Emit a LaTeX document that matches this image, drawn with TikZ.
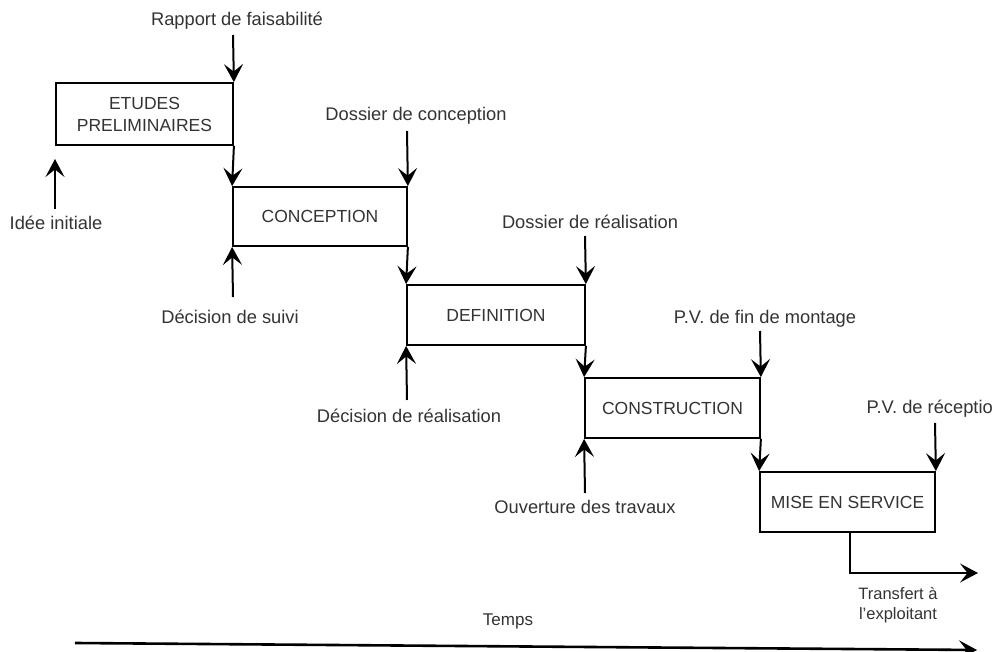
\documentclass[tikz,border=0pt]{standalone}
\usepackage{fontspec}
\setmainfont{Liberation Sans}
\usetikzlibrary{arrows.meta}
\begin{document}
\begin{tikzpicture}[x=1pt, y=-1pt,
  phase/.style={draw, line width=1.8pt, inner sep=0pt, align=center,
    font=\fontsize{17.5}{22}\selectfont, text=black!80},
  lbl/.style={inner sep=0pt, font=\fontsize{18.3}{21}\selectfont, text=black!80, align=center},
  arr/.style={line width=2pt, -{Stealth[length=18pt, width=19pt, inset=7.5pt]}}]
  \useasboundingbox[fill=white] (0,0) rectangle (997,652);

  % project phases, stepping down to the right
  \node[phase, minimum width=177pt, minimum height=62pt] (b1) at (144.5,114) {ETUDES\\PRELIMINAIRES};
  \node[phase, minimum width=174pt, minimum height=59pt] (b2) at (320,216.5) {CONCEPTION};
  \node[phase, minimum width=178pt, minimum height=60pt] (b3) at (496,315) {DEFINITION};
  \node[phase, minimum width=175pt, minimum height=60pt] (b4) at (672.5,408) {CONSTRUCTION};
  \node[phase, minimum width=175pt, minimum height=60pt] (b5) at (847.5,502) {MISE EN SERVICE};

  % documents delivered at the end of each phase
  \node[lbl] (rapport) at (237,21) {Rapport de faisabilité};
  \node[lbl] (dconc)   at (416,116) {Dossier de conception};
  \node[lbl] (dreal)   at (590,222) {Dossier de réalisation};
  \node[lbl] (pvfin)   at (765,319) {P.V. de fin de montage};
  \node[lbl, anchor=east] (pvrec) at (993,409) {P.V. de réceptio};

  % decisions that start each phase
  \node[lbl] (idee)    at (56,223)  {Idée initiale};
  \node[lbl] (dsuivi)  at (230,317) {Décision de suivi};
  \node[lbl] (dreal2)  at (409,416) {Décision de réalisation};
  \node[lbl] (ouv)     at (585,507) {Ouverture des travaux};

  \node[lbl, font=\fontsize{16.5}{20}\selectfont] (transf) at (898,605) {Transfert à\\l'exploitant};
  \node[lbl, font=\fontsize{17}{20}\selectfont] (temps) at (508,621) {Temps};

  % arrow tails and free ends
  \coordinate (tRap)  at (233,35);
  \coordinate (tConc) at (407,131);
  \coordinate (tReal) at (585,236);
  \coordinate (tFin)  at (760,331);
  \coordinate (tRec)  at (935,423);
  \coordinate (tIdee) at (55,209);
  \coordinate (hIdee) at (55,159);
  \coordinate (tSuiv) at (233,297);
  \coordinate (tDec)  at (407,400);
  \coordinate (tOuv)  at (585,493);
  \coordinate (corner) at (850,573);
  \coordinate (tEnd)  at (978,573);
  \coordinate (t0)    at (75,643);
  \coordinate (t1)    at (977,650);

  % incoming documents
  \draw[arr] (tRap)  -- (b1.north east);
  \draw[arr] (tConc) -- (b2.north east);
  \draw[arr] (tReal) -- (b3.north east);
  \draw[arr] (tFin)  -- (b4.north east);
  \draw[arr] (tRec)  -- (b5.north east);

  % decisions
  \draw[arr] (tIdee) -- (hIdee);
  \draw[arr] (tSuiv) -- (b2.south west);
  \draw[arr] (tDec)  -- (b3.south west);
  \draw[arr] (tOuv)  -- (b4.south west);

  % phase to phase
  \draw[arr] (b1.south east) -- (b2.north west);
  \draw[arr] (b2.south east) -- (b3.north west);
  \draw[arr] (b3.south east) -- (b4.north west);
  \draw[arr] (b4.south east) -- (b5.north west);

  % hand-over and time axis
  \draw[arr] (b5.south -| corner) -- (corner) -- (tEnd);
  \draw[arr, line width=2.6pt] (t0) -- (t1);
\end{tikzpicture}
\end{document}
